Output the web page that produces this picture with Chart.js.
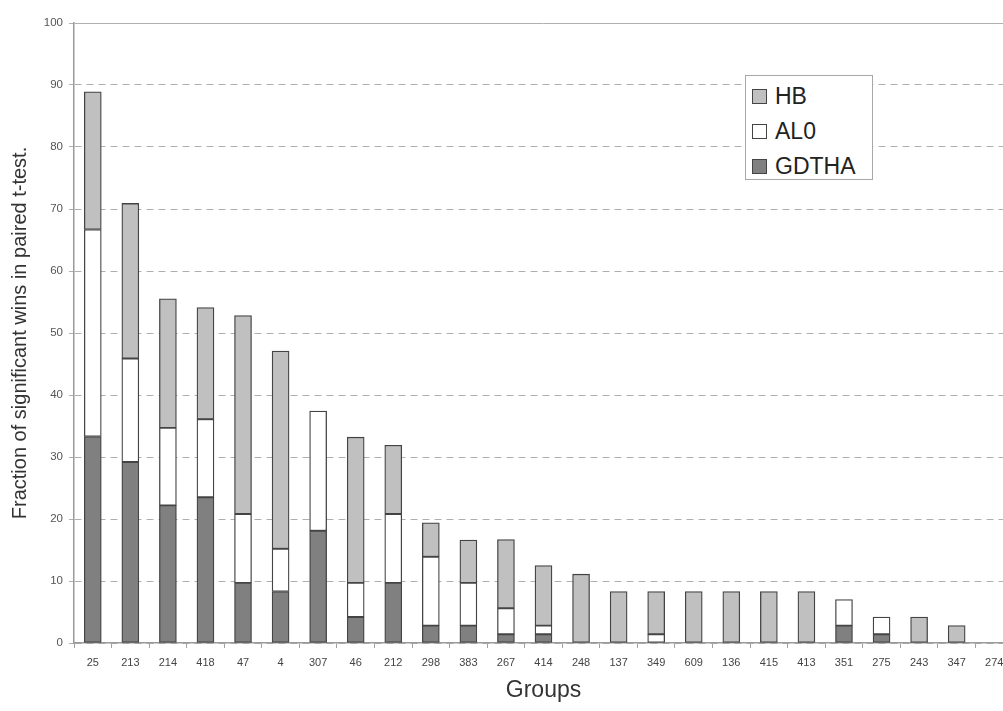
<!DOCTYPE html>
<html>
<head>
<meta charset="utf-8">
<script src="https://cdn.jsdelivr.net/npm/chart.js@4/dist/chart.umd.min.js"></script>
<style>
  html, body { margin: 0; padding: 0; background: #fff; overflow: hidden; }
  #wrap { position: relative; width: 1013px; height: 711px; }
  #leyenda {
    position: absolute; left: 745px; top: 75px; width: 128px; height: 105px;
    border: 1px solid #a8a8a8; background: #fff; padding-top: 3px; box-sizing: border-box;
    font-family: "Liberation Sans", Arial, sans-serif; font-size: 23px; color: #222;
  }
  .fila { height: 35px; display: flex; align-items: center; padding-left: 6px; }
  .cuadro { width: 15px; height: 15px; border: 1px solid #444; margin-right: 8px; box-sizing: border-box; }
</style>
</head>
<body>
<div id="wrap">
  <canvas id="myChart" width="1013" height="711"></canvas>
  <div id="leyenda"></div>
</div>
<script>
var grupos = ['25', '213', '214', '418', '47', '4', '307', '46', '212', '298', '383', '267', '414',
    '248', '137', '349', '609', '136', '415', '413', '351', '275', '243', '347', '274'];
var gdtha = [33.3, 29.2, 22.2, 23.5, 9.7, 8.3, 18.1, 4.2, 9.7, 2.8, 2.8, 1.4, 1.4,
    0, 0, 0, 0, 0, 0, 0, 2.8, 1.4, 0, 0, 0];
var al0 = [33.4, 16.7, 12.5, 12.6, 11.1, 6.9, 19.3, 5.5, 11.1, 11.1, 6.9, 4.2, 1.4,
    0, 0, 1.4, 0, 0, 0, 0, 4.2, 2.8, 0, 0, 0];
var hb = [22.2, 25.0, 20.8, 18.0, 32.0, 31.9, 0, 23.5, 11.1, 5.5, 6.9, 11.1, 9.7,
    11.1, 8.3, 6.9, 8.3, 8.3, 8.3, 8.3, 0, 0, 4.2, 2.8, 0];
var yTicks = [0, 10, 20, 30, 40, 50, 60, 70, 80, 90, 100];

var fuente = '"Liberation Sans", Arial, sans-serif';

function serie(label, data, color) {
    return {
        label: label,
        data: data,
        backgroundColor: color,
        borderColor: '#444444',
        borderWidth: 1.3,
        borderSkipped: false,
        barThickness: 17
    };
}

var ctx = document.getElementById('myChart');
var myChart = new Chart(ctx, {
    type: 'bar',
    data: {
        labels: grupos,
        datasets: [
            serie('GDTHA', gdtha, '#808080'),
            serie('AL0', al0, '#ffffff'),
            serie('HB', hb, '#c0c0c0')
        ]
    },
    options: {
        responsive: false,
        animation: false,
        layout: { padding: { top: 23, right: 0, left: 0, bottom: 0 } },
        plugins: {
            legend: { display: false },
            tooltip: { enabled: false }
        },
        scales: {
            x: {
                stacked: true,
                grid: { drawOnChartArea: false, offset: true, tickLength: 5, color: '#a0a0a0' },
                border: { color: '#9a9a9a', width: 1.5 },
                ticks: { color: '#444', font: { family: fuente, size: 11 }, padding: 8, maxRotation: 0, autoSkip: false },
                title: { display: true, text: 'Groups', color: '#333', font: { family: fuente, size: 23 }, padding: { top: 0, bottom: 7 } },
                afterFit: function(scale) { scale.height = 68; }
            },
            y: {
                stacked: true,
                min: 0,
                max: 100,
                afterBuildTicks: function(scale) {
                    scale.ticks = yTicks.map(function(v) { return { value: v }; });
                },
                grid: { color: '#b0b0b0', tickLength: 5, lineWidth: 1 },
                border: {
                    color: '#9a9a9a', width: 1.5,
                    dash: function(c) { return (c.tick && c.tick.value === 100) ? [] : [7, 5]; }
                },
                ticks: { color: '#555', font: { family: fuente, size: 11.5 }, padding: 6 },
                title: { display: true, text: 'Fraction of significant wins in paired t-test.', color: '#333', font: { family: fuente, size: 20 }, padding: { top: 8, bottom: 0 } },
                afterFit: function(scale) { scale.width = 74; }
            }
        }
    }
});

// leyenda en orden inverso (como en la figura)
var leyenda = document.getElementById('leyenda');
var ds = myChart.data.datasets.slice().reverse();
for (var i = 0; i < ds.length; i++) {
    var fila = document.createElement('div');
    fila.className = 'fila';
    var cuadro = document.createElement('span');
    cuadro.className = 'cuadro';
    cuadro.style.background = ds[i].backgroundColor;
    var txt = document.createElement('span');
    txt.textContent = ds[i].label;
    fila.appendChild(cuadro);
    fila.appendChild(txt);
    leyenda.appendChild(fila);
}
</script>
</body>
</html>
